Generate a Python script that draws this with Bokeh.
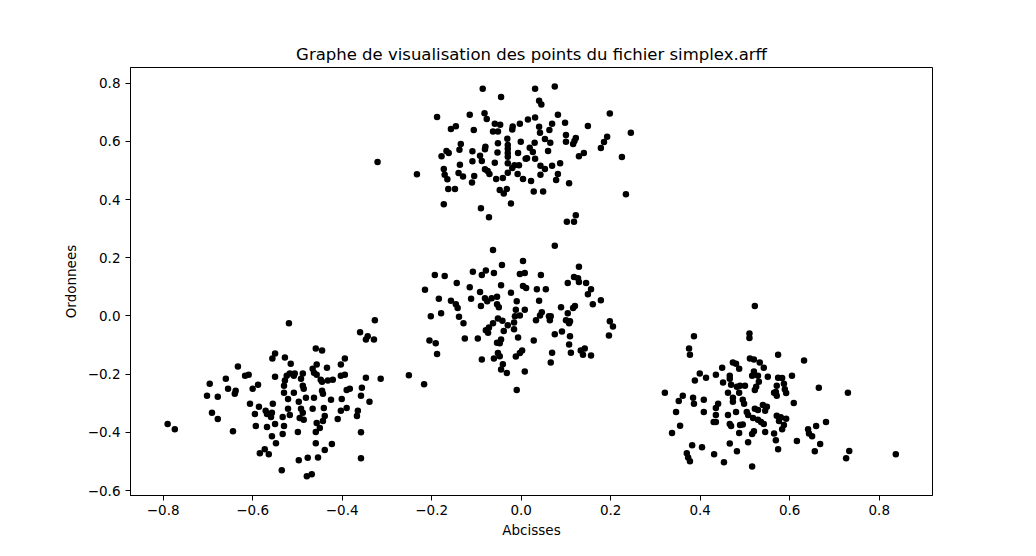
from bokeh.plotting import figure
from bokeh.models import Range1d, FixedTicker, CustomJSTickFormatter
from bokeh.embed import file_html
from bokeh.resources import INLINE

# ---- data ----
top_x = [-0.086, -0.045, -0.188, -0.115, -0.082, -0.077, -0.157, -0.146, -0.106, -0.059,
         -0.047, -0.063, -0.052, -0.019, -0.020, -0.003, -0.031, -0.052, -0.001, -0.080,
         -0.081, -0.135, -0.138, -0.030, -0.030, -0.053, -0.030, -0.007, -0.167, -0.162,
         -0.178, -0.109, -0.092, -0.088, -0.109, -0.030, -0.030, -0.059, 0.010, -0.137,
         -0.173, -0.081, -0.075, -0.071, -0.015, -0.005, -0.020, -0.008, -0.030, -0.233,
         -0.171, -0.140, -0.130, -0.105, -0.110, -0.165, -0.056, -0.041, 0.004, -0.163,
         -0.148, -0.048, -0.039, -0.032, -0.173, -0.090, -0.023, -0.072, -0.321,
         0.031, 0.075, 0.040, 0.045, 0.082, 0.198, 0.015, 0.031, 0.069, 0.098,
         0.040, 0.063, 0.042, 0.149, 0.245, 0.053, 0.100, 0.122, 0.030, 0.065,
         0.100, 0.119, 0.116, 0.192, 0.185, 0.178, 0.019, 0.026, 0.060, 0.140,
         0.129, 0.225, 0.013, 0.031, 0.087, 0.069, 0.043, 0.053, 0.082, 0.043,
         0.022, 0.078, 0.107, 0.028, 0.049, 0.234, 0.122, 0.102, 0.118]
top_y = [0.781, 0.753, 0.684, 0.692, 0.697, 0.677, 0.643, 0.652, 0.639, 0.661,
         0.657, 0.634, 0.634, 0.651, 0.641, 0.661, 0.609, 0.594, 0.599, 0.582,
         0.573, 0.591, 0.571, 0.588, 0.575, 0.562, 0.560, 0.560, 0.567, 0.560,
         0.549, 0.566, 0.551, 0.533, 0.532, 0.547, 0.525, 0.527, 0.540, 0.520,
         0.505, 0.504, 0.498, 0.488, 0.518, 0.518, 0.509, 0.488, 0.492, 0.487,
         0.485, 0.491, 0.479, 0.481, 0.459, 0.470, 0.471, 0.474, 0.471, 0.436,
         0.436, 0.433, 0.421, 0.436, 0.384, 0.370, 0.387, 0.339, 0.529,
         0.781, 0.789, 0.740, 0.727, 0.692, 0.696, 0.675, 0.682, 0.661, 0.664,
         0.650, 0.639, 0.630, 0.653, 0.630, 0.608, 0.622, 0.612, 0.595, 0.595,
         0.599, 0.601, 0.591, 0.616, 0.598, 0.577, 0.578, 0.564, 0.567, 0.560,
         0.549, 0.546, 0.542, 0.540, 0.525, 0.516, 0.516, 0.505, 0.488, 0.485,
         0.464, 0.467, 0.456, 0.428, 0.428, 0.418, 0.346, 0.324, 0.324]

mid_x = [-0.063, -0.043, -0.193, -0.171, -0.108, -0.088, -0.079, -0.061, -0.144, -0.215,
         -0.115, -0.045, -0.092, -0.023, -0.184, -0.157, -0.112, -0.081, -0.076, -0.066,
         -0.054, -0.054, -0.050, -0.146, -0.142, -0.090, -0.202, -0.179, -0.139, -0.129,
         -0.052, -0.042, -0.063, -0.030, -0.072, -0.079, -0.074, -0.039, -0.126, -0.097,
         -0.205, -0.191, -0.045, -0.054, -0.048, -0.188, -0.052, -0.048, -0.088, -0.061,
         -0.041, -0.045, -0.032, -0.251, -0.217,
         0.075, 0.004, -0.003, 0.008, 0.044, 0.129, 0.004, 0.011, 0.035, 0.055,
         0.104, 0.118, 0.127, 0.129, 0.145, 0.156, 0.149, 0.178, 0.160, -0.010,
         0.040, 0.089, 0.116, 0.120, 0.104, -0.012, 0.008, -0.014, -0.003, 0.042,
         0.046, 0.062, 0.066, 0.033, 0.064, 0.100, 0.109, 0.107, -0.016, -0.016,
         0.198, 0.205, 0.196, -0.007, 0.075, 0.091, 0.109, 0.028, 0.107, 0.002,
         -0.003, -0.012, 0.069, 0.111, 0.133, 0.142, 0.138, 0.156, 0.066, 0.008, -0.010]
mid_y = [0.227, 0.175, 0.141, 0.137, 0.152, 0.141, 0.156, 0.148, 0.113, 0.090,
         0.099, 0.106, 0.082, 0.080, 0.059, 0.052, 0.059, 0.061, 0.051, 0.061,
         0.066, 0.040, 0.030, 0.040, 0.027, 0.034, -0.001, 0.009, -0.003, -0.025,
         -0.009, -0.016, -0.025, -0.032, -0.040, -0.049, -0.058, -0.052, -0.077, -0.077,
         -0.084, -0.094, -0.081, -0.092, -0.094, -0.131, -0.127, -0.138, -0.150, -0.146,
         -0.166, -0.184, -0.196, -0.204, -0.235,
         0.241, 0.189, 0.144, 0.148, 0.141, 0.169, 0.103, 0.096, 0.092, 0.092,
         0.113, 0.134, 0.130, 0.117, 0.113, 0.092, 0.075, 0.054, 0.040, 0.051,
         0.052, 0.030, 0.027, 0.034, 0.009, 0.021, 0.021, -0.001, 0.002, 0.002,
         0.013, -0.001, -0.001, -0.015, -0.015, -0.015, -0.018, -0.025, -0.022, -0.046,
         -0.018, -0.036, -0.067, -0.074, -0.063, -0.053, -0.070, -0.084, -0.098, -0.119,
         -0.127, -0.139, -0.126, -0.126, -0.119, -0.112, -0.133, -0.136, -0.160, -0.191, -0.254]

left_x = [-0.550, -0.556, -0.633, -0.617, -0.609, -0.550, -0.696, -0.660, -0.655, -0.638,
          -0.640, -0.600, -0.588, -0.702, -0.678, -0.606, -0.586, -0.555, -0.691, -0.678,
          -0.595, -0.571, -0.568, -0.557, -0.559, -0.790, -0.774, -0.644, -0.593, -0.568,
          -0.550, -0.557, -0.548, -0.573, -0.584, -0.564,
          -0.519, -0.327, -0.360, -0.343, -0.347, -0.329, -0.459, -0.445, -0.528, -0.515,
          -0.394, -0.403, -0.457, -0.434, -0.466, -0.463, -0.524, -0.517, -0.506, -0.488,
          -0.508, -0.528, -0.492, -0.457, -0.448, -0.445, -0.432, -0.421, -0.403, -0.394,
          -0.347, -0.314, -0.530, -0.488, -0.486, -0.356, -0.390, -0.383, -0.530, -0.508,
          -0.445, -0.443, -0.358, -0.521, -0.481, -0.463, -0.425, -0.401, -0.339, -0.497,
          -0.441, -0.521, -0.492, -0.466, -0.390, -0.403, -0.365, -0.517, -0.488, -0.533,
          -0.495, -0.486, -0.439, -0.443, -0.410, -0.367, -0.530, -0.457, -0.450, -0.459,
          -0.499, -0.358, -0.533, -0.459, -0.423, -0.439, -0.477, -0.454, -0.497, -0.358,
          -0.535, -0.479, -0.468]
left_y = [-0.129, -0.146, -0.174, -0.205, -0.202, -0.209, -0.233, -0.216, -0.250, -0.257,
          -0.267, -0.250, -0.236, -0.274, -0.278, -0.302, -0.312, -0.302, -0.333, -0.354,
          -0.337, -0.326, -0.337, -0.333, -0.347, -0.371, -0.389, -0.396, -0.378, -0.382,
          -0.371, -0.413, -0.437, -0.458, -0.472, -0.475,
          -0.025, -0.015, -0.056, -0.070, -0.081, -0.081, -0.112, -0.119, -0.143, -0.164,
          -0.146, -0.167, -0.167, -0.178, -0.181, -0.195, -0.205, -0.198, -0.198, -0.198,
          -0.205, -0.222, -0.216, -0.202, -0.219, -0.226, -0.222, -0.219, -0.205, -0.202,
          -0.212, -0.216, -0.240, -0.240, -0.250, -0.247, -0.254, -0.250, -0.264, -0.264,
          -0.257, -0.267, -0.274, -0.285, -0.281, -0.281, -0.288, -0.285, -0.295, -0.295,
          -0.316, -0.319, -0.319, -0.319, -0.316, -0.326, -0.326, -0.340, -0.333, -0.347,
          -0.351, -0.357, -0.344, -0.361, -0.354, -0.344, -0.378, -0.368, -0.385, -0.399,
          -0.399, -0.400, -0.406, -0.437, -0.440, -0.461, -0.487, -0.486, -0.496, -0.489,
          -0.530, -0.551, -0.544]

right_x = [0.522, 0.510, 0.510, 0.386, 0.375, 0.377, 0.473, 0.480, 0.511, 0.520,
           0.533, 0.449, 0.487, 0.542, 0.399, 0.413, 0.388, 0.435, 0.466, 0.466,
           0.516, 0.529, 0.520, 0.551, 0.451, 0.469, 0.531, 0.482, 0.489, 0.500,
           0.525, 0.522, 0.321, 0.462, 0.487, 0.565, 0.361, 0.352, 0.384, 0.408,
           0.473, 0.473, 0.495, 0.498, 0.386, 0.440, 0.435, 0.522, 0.529, 0.540,
           0.549, 0.545, 0.346, 0.408, 0.480, 0.504, 0.507, 0.435, 0.462, 0.518,
           0.529, 0.536, 0.542, 0.430, 0.435, 0.466, 0.469, 0.489, 0.495, 0.355,
           0.487, 0.520, 0.516, 0.545, 0.565, 0.337, 0.466, 0.507, 0.382, 0.404,
           0.482, 0.370, 0.431, 0.373, 0.377, 0.453, 0.516,
           0.574, 0.632, 0.574, 0.583, 0.605, 0.571, 0.587, 0.589, 0.665, 0.730,
           0.569, 0.571, 0.592, 0.609, 0.571, 0.580, 0.592, 0.576, 0.587, 0.583,
           0.681, 0.659, 0.641, 0.643, 0.650, 0.569, 0.616, 0.668, 0.574, 0.656,
           0.733, 0.726, 0.837]
right_y = [0.034, -0.060, -0.076, -0.070, -0.112, -0.133, -0.160, -0.164, -0.146, -0.150,
           -0.160, -0.178, -0.181, -0.178, -0.198, -0.212, -0.222, -0.202, -0.205, -0.216,
           -0.205, -0.205, -0.191, -0.209, -0.229, -0.236, -0.226, -0.243, -0.240, -0.240,
           -0.243, -0.254, -0.264, -0.264, -0.264, -0.264, -0.274, -0.292, -0.281, -0.288,
           -0.281, -0.295, -0.288, -0.302, -0.302, -0.302, -0.316, -0.319, -0.323, -0.306,
           -0.312, -0.326, -0.330, -0.330, -0.330, -0.330, -0.340, -0.340, -0.340, -0.351,
           -0.357, -0.364, -0.371, -0.364, -0.364, -0.371, -0.378, -0.375, -0.373, -0.377,
           -0.402, -0.396, -0.406, -0.399, -0.404, -0.402, -0.438, -0.434, -0.444, -0.451,
           -0.465, -0.472, -0.475, -0.486, -0.499, -0.503, -0.517,
           -0.133, -0.153, -0.212, -0.213, -0.205, -0.240, -0.233, -0.252, -0.247, -0.264,
           -0.261, -0.274, -0.265, -0.299, -0.343, -0.348, -0.353, -0.361, -0.375, -0.389,
           -0.364, -0.378, -0.389, -0.404, -0.413, -0.427, -0.430, -0.440, -0.458, -0.465,
           -0.464, -0.489, -0.475]

x_ticks = [-0.8, -0.6, -0.4, -0.2, 0.0, 0.2, 0.4, 0.6, 0.8]
y_ticks = [-0.6, -0.4, -0.2, 0.0, 0.2, 0.4, 0.6, 0.8]

title_text = "Graphe de visualisation des points du fichier simplex.arff"
x_label = "Abcisses"
y_label = "Ordonnees"

for a, b in [(top_x, top_y), (mid_x, mid_y), (left_x, left_y), (right_x, right_y)]:
    assert len(a) == len(b), (len(a), len(b))

FONT = "DejaVu Sans"

p = figure(width=1020, height=540, output_backend="svg", toolbar_location=None,
           x_range=Range1d(-0.873, 0.919), y_range=Range1d(-0.617, 0.854),
           min_border_left=130, min_border_right=88, min_border_top=67, min_border_bottom=45)

p.title.text = title_text
p.title.align = "center"
p.title.text_font = FONT
p.title.text_font_size = "16.5px"
p.title.text_font_style = "normal"
p.title.text_color = "black"
p.title.standoff = 8

p.grid.visible = False
p.background_fill_color = "white"
p.border_fill_color = "white"
p.outline_line_color = "black"
p.outline_line_width = 1
p.outline_line_alpha = 1

fmt = CustomJSTickFormatter(code="return tick.toFixed(1).replace('-', '\u2212');")

for ax, ticks, label in [(p.xaxis[0], x_ticks, x_label), (p.yaxis[0], y_ticks, y_label)]:
    ax.ticker = FixedTicker(ticks=ticks)
    ax.formatter = fmt
    ax.axis_label = label
    ax.axis_label_text_font = FONT
    ax.axis_label_text_font_size = "13.5px"
    ax.axis_label_text_font_style = "normal"
    ax.axis_label_text_color = "black"
    ax.major_label_text_font = FONT
    ax.major_label_text_font_size = "13.5px"
    ax.major_label_text_color = "black"
    ax.major_tick_out = 5
    ax.major_tick_in = 0
    ax.minor_tick_out = 0
    ax.minor_tick_in = 0
    ax.axis_line_color = "black"
    ax.major_tick_line_color = "black"

p.xaxis.major_label_standoff = 4
p.yaxis.major_label_standoff = 5
p.xaxis.axis_label_standoff = 4
p.yaxis.axis_label_standoff = 6

for xs, ys in [(top_x, top_y), (mid_x, mid_y), (left_x, left_y), (right_x, right_y)]:
    p.scatter(xs, ys, size=6.5, color="black", line_width=0)

open("out.html", "w").write(file_html(p, INLINE))
